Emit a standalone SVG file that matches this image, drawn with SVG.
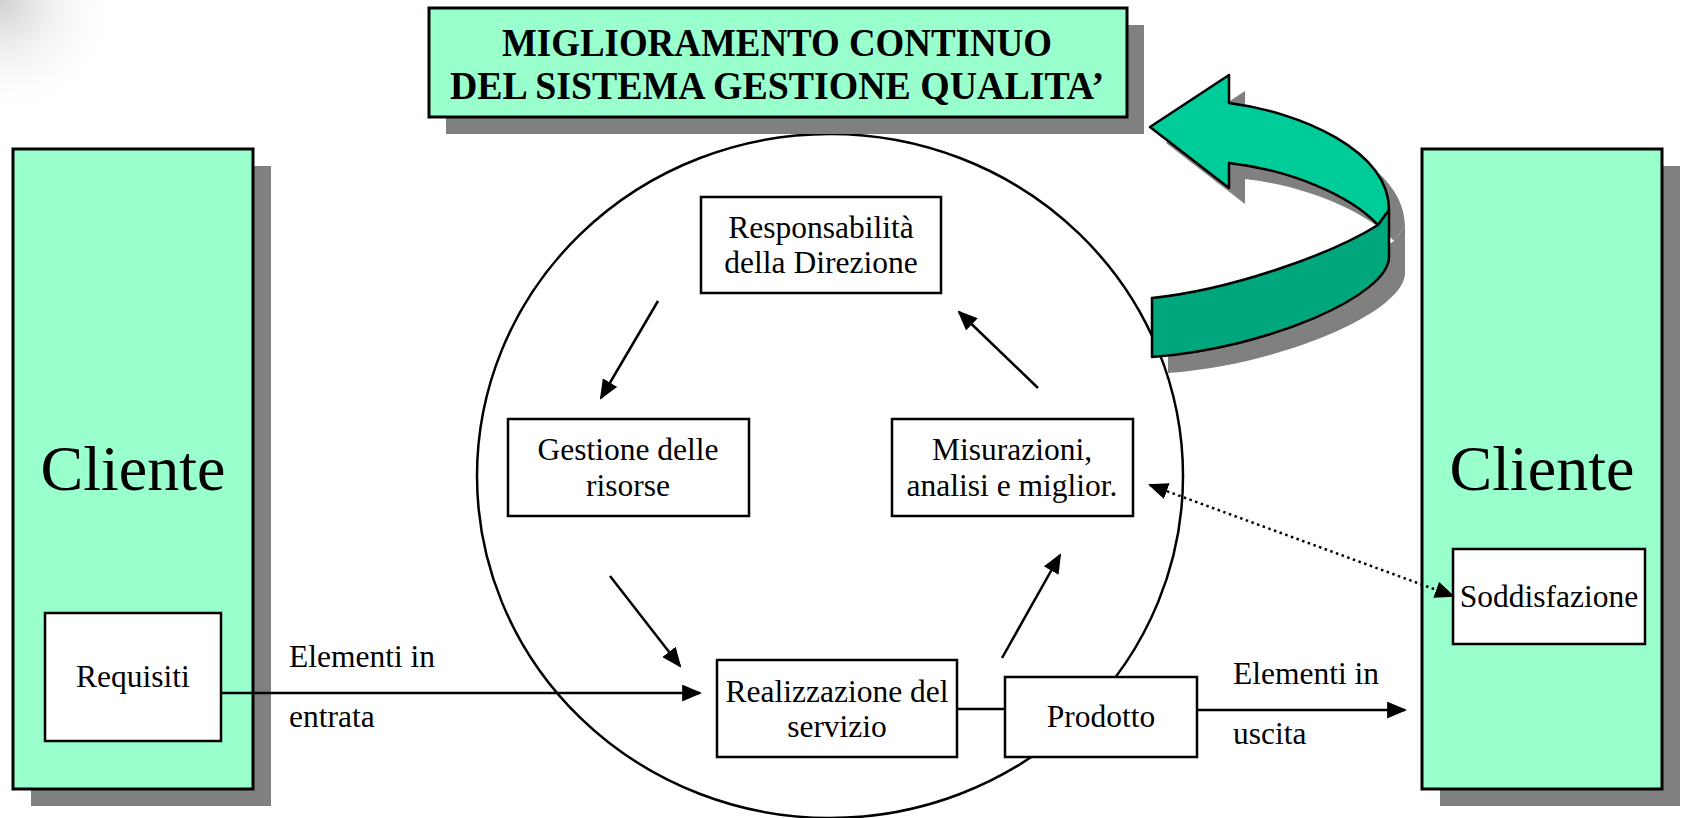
<svg xmlns="http://www.w3.org/2000/svg" width="1681" height="818" viewBox="0 0 1681 818">
<defs>
<style>
.t{font-family:"Liberation Serif","Times New Roman",serif;font-size:31.5px;fill:#000;text-anchor:middle}
.big{font-size:64px}
.title{font-weight:bold;font-size:40px}
.lbl{text-anchor:start}
.box{fill:#fff;stroke:#000;stroke-width:2.5}
.cli{fill:#99FFCC;stroke:#000;stroke-width:3}
.sh{fill:#808080}
.con{fill:none;stroke:#000;stroke-width:2.5}
.dot{fill:none;stroke:#000;stroke-width:2.5;stroke-dasharray:2.5 3.5}
.light{fill:#00CC99;stroke:#000;stroke-width:2.5;stroke-linejoin:round}
.dark{fill:#00A67C;stroke:#000;stroke-width:2.5;stroke-linejoin:round}
</style>
<marker id="ah" markerUnits="userSpaceOnUse" markerWidth="20" markerHeight="17" refX="17" refY="8" orient="auto-start-reverse" viewBox="0 0 19 16"><path d="M0,0 L19,8 L0,16 z" fill="#000"/></marker>
<radialGradient id="corner" gradientUnits="userSpaceOnUse" cx="0" cy="0" r="120">
<stop offset="0" stop-color="#cfcfcf" stop-opacity="1"/>
<stop offset="1" stop-color="#ffffff" stop-opacity="0"/>
</radialGradient>
</defs>
<rect x="0" y="0" width="1681" height="818" fill="#fff"/>
<rect x="0" y="0" width="130" height="130" fill="url(#corner)"/>

<ellipse id="ciclo" cx="830" cy="476" rx="353" ry="342" fill="none" stroke="#000" stroke-width="2.5"/>

<g id="titolo">
<rect class="sh" x="446" y="25" width="698" height="109"/>
<rect class="cli" x="429" y="8" width="698" height="109"/>
<text class="t title" x="777" y="56" textLength="550" lengthAdjust="spacingAndGlyphs">MIGLIORAMENTO CONTINUO</text>
<text class="t title" x="777" y="99" textLength="654" lengthAdjust="spacingAndGlyphs">DEL SISTEMA GESTIONE QUALITA’</text>
</g>

<g id="freccia-miglioramento">
<g transform="translate(16,16)">
<path class="sh" d="M1229,103 L1229,75 L1150,127 L1229,188 L1229,163 C1290,170 1350,195 1378,225 L1389,210 C1389,150 1300,112 1229,103 Z"/>
<path class="sh" d="M1378,225 C1330,255 1230,290 1152,298 L1152,357 C1270,348 1389,295 1389,257 L1389,210 Z"/>
</g>
<path class="light" d="M1229,103 L1229,75 L1150,127 L1229,188 L1229,163 C1290,170 1350,195 1378,225 L1389,210 C1389,150 1300,112 1229,103 Z"/>
<path class="dark" d="M1378,225 C1330,255 1230,290 1152,298 L1152,357 C1270,348 1389,295 1389,257 L1389,210 Z"/>
</g>

<g id="cliente-sx">
<rect class="sh" x="31" y="166" width="240" height="640"/>
<rect class="cli" x="13" y="149" width="240" height="640"/>
<text class="t big" x="133" y="490">Cliente</text>
</g>
<g id="requisiti">
<rect class="box" x="45" y="613" width="176" height="128"/>
<text class="t" x="133" y="687">Requisiti</text>
</g>

<g id="cliente-dx">
<rect class="sh" x="1440" y="166" width="240" height="640"/>
<rect class="cli" x="1422" y="149" width="240" height="640"/>
<text class="t big" x="1542" y="490">Cliente</text>
</g>
<g id="soddisfazione">
<rect class="box" x="1453" y="549" width="192" height="95"/>
<text class="t" x="1549" y="607">Soddisfazione</text>
</g>

<g id="responsabilita">
<rect class="box" x="701" y="197" width="240" height="96"/>
<text class="t" x="821" y="238">Responsabilità</text>
<text class="t" x="821" y="273">della Direzione</text>
</g>
<g id="gestione">
<rect class="box" x="508" y="419" width="241" height="97"/>
<text class="t" x="628" y="460">Gestione delle</text>
<text class="t" x="628" y="496">risorse</text>
</g>
<g id="misurazioni">
<rect class="box" x="892" y="419" width="241" height="97"/>
<text class="t" x="1012" y="460">Misurazioni,</text>
<text class="t" x="1012" y="496">analisi e miglior.</text>
</g>
<g id="realizzazione">
<rect class="box" x="717" y="660" width="240" height="97"/>
<text class="t" x="837" y="702">Realizzazione del</text>
<text class="t" x="837" y="737">servizio</text>
</g>
<g id="prodotto">
<rect class="box" x="1005" y="677" width="192" height="80"/>
<text class="t" x="1101" y="727">Prodotto</text>
</g>

<g id="etichette">
<text class="t lbl" x="289" y="667">Elementi in</text>
<text class="t lbl" x="289" y="727">entrata</text>
<text class="t lbl" x="1233" y="684">Elementi in</text>
<text class="t lbl" x="1233" y="744">uscita</text>
</g>

<g id="connettori">
<path class="con" d="M221,693 L700,693" marker-end="url(#ah)"/>
<path class="con" d="M658,301 L601,398" marker-end="url(#ah)"/>
<path class="con" d="M610,576 L680,666" marker-end="url(#ah)"/>
<path class="con" d="M1002,658 L1060,555" marker-end="url(#ah)"/>
<path class="con" d="M1038,388 L959,312" marker-end="url(#ah)"/>
<path class="con" d="M957,709 L1005,709"/>
<path class="con" d="M1197,710 L1405,710" marker-end="url(#ah)"/>
<path class="dot" d="M1150,485 L1453,596" marker-start="url(#ah)" marker-end="url(#ah)"/>
</g>
</svg>
